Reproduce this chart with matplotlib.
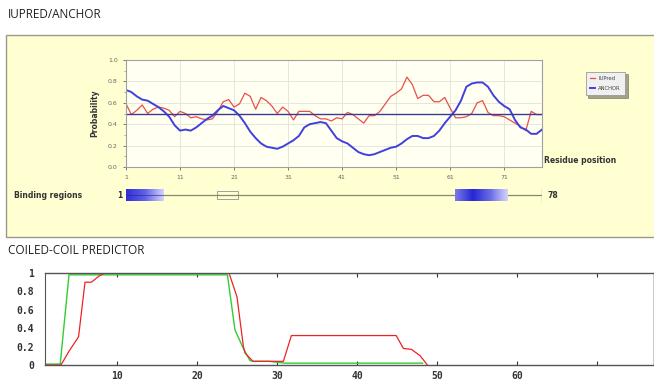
import numpy as np
import matplotlib.pyplot as plt
from matplotlib.patches import Rectangle
from matplotlib.colors import LinearSegmentedColormap

# IUPred / ANCHOR per residue (1..78)
residues = np.arange(1, 79)
iupred = [0.59, 0.49, 0.53, 0.58, 0.50, 0.54, 0.56, 0.55, 0.53, 0.47,
          0.52, 0.50, 0.46, 0.47, 0.45, 0.44, 0.45, 0.52, 0.61, 0.63,
          0.56, 0.59, 0.69, 0.66, 0.54, 0.65, 0.62, 0.57, 0.50, 0.56,
          0.52, 0.44, 0.52, 0.52, 0.52, 0.48, 0.45, 0.45, 0.43, 0.46,
          0.45, 0.51, 0.49, 0.45, 0.41, 0.48, 0.48, 0.52, 0.59, 0.66,
          0.69, 0.73, 0.84, 0.77, 0.64, 0.67, 0.67, 0.61, 0.61, 0.65,
          0.55, 0.46, 0.46, 0.47, 0.50, 0.60, 0.62, 0.51, 0.48, 0.48,
          0.47, 0.44, 0.41, 0.38, 0.34, 0.52, 0.49, 0.49]
anchor = [0.72, 0.70, 0.66, 0.63, 0.62, 0.59, 0.56, 0.52, 0.47, 0.39,
          0.34, 0.35, 0.34, 0.37, 0.41, 0.45, 0.48, 0.53, 0.57, 0.55,
          0.53, 0.48, 0.41, 0.33, 0.27, 0.22, 0.19, 0.18, 0.17, 0.19,
          0.22, 0.25, 0.29, 0.37, 0.40, 0.41, 0.42, 0.41, 0.34, 0.27,
          0.24, 0.22, 0.18, 0.14, 0.12, 0.11, 0.12, 0.14, 0.16, 0.18,
          0.19, 0.22, 0.26, 0.29, 0.29, 0.27, 0.27, 0.29, 0.34, 0.41,
          0.47, 0.53, 0.62, 0.75, 0.78, 0.79, 0.79, 0.75, 0.67, 0.61,
          0.57, 0.54, 0.44, 0.37, 0.35, 0.31, 0.31, 0.35]
threshold = 0.5

# binding regions (start, end residue) and the empty marked box
binding_regions = [(1, 7.85), (61.9, 71.7)]
empty_region = (17.9, 21.7)
seq_len = 78

# coiled-coil predictor
cc_red_x = [1, 2, 3, 4, 5, 5.2, 6, 6.8, 7.8, 8.5, 24, 25, 25.8, 26, 27,
            28, 29, 30, 30.8, 31.8, 44.9, 45.8, 46.8, 47.9, 48.8]
cc_red_y = [0, 0, 0, 0.15, 0.28, 0.31, 0.90, 0.90, 0.97, 1.0, 1.0, 0.74,
            0.20, 0.13, 0.04, 0.04, 0.04, 0.04, 0.04, 0.32, 0.32, 0.18,
            0.17, 0.10, 0.0]
cc_green_x = [1, 2, 2.9, 4.0, 23.8, 24.75, 25.8, 26.6, 27, 28, 29, 30,
              31, 40, 48.2]
cc_green_y = [0.01, 0.01, 0.01, 0.98, 0.98, 0.38, 0.18, 0.05, 0.04, 0.04,
              0.04, 0.03, 0.02, 0.02, 0.02]

W, H = 654, 387
fig = plt.figure(figsize=(W / 100, H / 100), dpi=100)
fig.patch.set_facecolor('white')


def fbox(l, t, r, b):
    # pixel box -> figure rect
    return [l / W, 1 - b / H, (r - l) / W, (b - t) / H]


# section titles
fig.text(8 / W, 1 - 14 / H, 'IUPRED/ANCHOR', fontsize=8.5, family='Open Sans',
         color='#222222', va='center')
fig.text(8 / W, 1 - 250 / H, 'COILED-COIL PREDICTOR', fontsize=8.5,
         family='Open Sans', color='#222222', va='center')

# yellow panel (behind the axes)
fig.patches.append(Rectangle((6 / W, 1 - 237 / H), 660 / W, 202 / H,
                             transform=fig.transFigure, facecolor='#ffffd2',
                             edgecolor='#9a9a8a', lw=1.0, zorder=-10))

# ---- IUPred / ANCHOR plot
ax = fig.add_axes(fbox(126, 60, 542, 167))
ax.set_facecolor('#fffff2')
ax.plot(residues, iupred, color='#e8504a', lw=0.9, label='IUPred')
ax.plot(residues, anchor, color='#4040e0', lw=1.4, label='ANCHOR')
ax.axhline(threshold, color='#3a3a90', lw=1.0)
ax.set_xlim(1, 78)
ax.set_ylim(0, 1)
ax.set_xticks(np.arange(1, 78, 10))
ax.set_yticks(np.arange(0, 1.01, 0.2))
ax.set_yticks(np.arange(0, 1.01, 0.1), minor=True)
ax.set_yticklabels(['0.0', '0.2', '0.4', '0.6', '0.8', '1.0'])
ax.tick_params(labelsize=4.5, colors='#666666', length=2, width=0.6,
               direction='out', pad=4)
ax.tick_params(which='minor', length=1.5, width=0.5, colors='#888888')
ax.grid(color='#e2e2d8', lw=0.6)
for s in ax.spines.values():
    s.set_color('#a0a0a0')
    s.set_linewidth(0.8)
ax.set_ylabel('Probability', fontsize=5.5, fontweight='bold', color='#333333',
              labelpad=6)
ax.text(1.006, 0.06, 'Residue position', transform=ax.transAxes, fontsize=5.5,
        fontweight='bold', color='#333333', ha='left', va='center')

leg = fig.legend(loc='upper left', bbox_to_anchor=(583 / W, 1 - 69 / H),
                 fontsize=3.8, frameon=True, fancybox=False, shadow=True,
                 handlelength=1.0, borderpad=0.8, labelspacing=0.9,
                 handletextpad=0.6)
leg.get_frame().set_facecolor('#f0f0f0')
leg.get_frame().set_edgecolor('#999999')
leg.get_frame().set_linewidth(0.6)
for t in leg.get_texts():
    t.set_color('#444444')

# ---- binding regions row
axb = fig.add_axes(fbox(126, 185, 542, 205))
axb.set_xlim(1, 78)
axb.set_ylim(0, 1)
axb.axis('off')
axb.plot([1, seq_len], [0.5, 0.5], color='#888870', lw=0.9)
axb.plot([seq_len, seq_len], [0.15, 0.85], color='#888870', lw=0.9)
cm1 = LinearSegmentedColormap.from_list('b1', ['#3030d8', '#6060ea', '#d4d4fb'])
cm2 = LinearSegmentedColormap.from_list(
    'b2', ['#7a7aec', '#2626d4', '#6a6ae6', '#d4d4fa'])
grad = np.linspace(0, 1, 64).reshape(1, -1)
for (a, b), cm in zip(binding_regions, [cm1, cm2]):
    axb.imshow(grad, cmap=cm, aspect='auto', extent=(a, b, 0.2, 0.8),
               zorder=2)
axb.plot([binding_regions[0][0], binding_regions[0][1]], [0.5, 0.5],
         color='#2a2a80', lw=0.8, zorder=3, alpha=0.6)
axb.add_patch(Rectangle((empty_region[0], 0.3), empty_region[1] - empty_region[0],
                        0.4, facecolor='none', edgecolor='#a0a0a0', lw=0.7))
axb.set_xlim(1, 78)
axb.set_ylim(0, 1)
fig.text(14 / W, 1 - 195 / H, 'Binding regions', fontsize=5.5,
         fontweight='bold', color='#333333', va='center')
fig.text(117 / W, 1 - 195 / H, '1', fontsize=5.5, fontweight='bold',
         color='#333333', va='center')
fig.text(548 / W, 1 - 195 / H, str(seq_len), fontsize=5.5, fontweight='bold',
         color='#333333', va='center')

# ---- coiled-coil plot
ax2 = fig.add_axes(fbox(45, 273, 653, 365))
ax2.plot(cc_green_x, cc_green_y, color='#33cc33', lw=1.0)
ax2.plot(cc_red_x, cc_red_y, color='#ee2222', lw=0.9)
ax2.set_xlim(1, 77)
ax2.set_ylim(0, 1)
ax2.set_xticks(np.arange(10, 71, 10))
ax2.set_xticklabels(['10', '20', '30', '40', '50', '60', ''])
ax2.set_yticks(np.arange(0, 1.01, 0.2))
ax2.set_yticklabels(['0', '0.2', '0.4', '0.6', '0.8', '1'])
ax2.tick_params(axis='x', direction='in', top=True, length=3, width=0.8,
                labelsize=7, pad=4, colors='#333333')
ax2.tick_params(axis='y', direction='in', length=0, labelsize=7, pad=8,
                colors='#333333')
for lab in ax2.get_xticklabels() + ax2.get_yticklabels():
    lab.set_family('DejaVu Sans Mono')
    lab.set_fontweight('bold')
for s in ['top', 'bottom']:
    ax2.spines[s].set_color('#555555')
    ax2.spines[s].set_linewidth(1.0)
ax2.spines['left'].set_color('#555555')
ax2.spines['right'].set_color('#cccccc')

fig.savefig('out.png', dpi=100)
